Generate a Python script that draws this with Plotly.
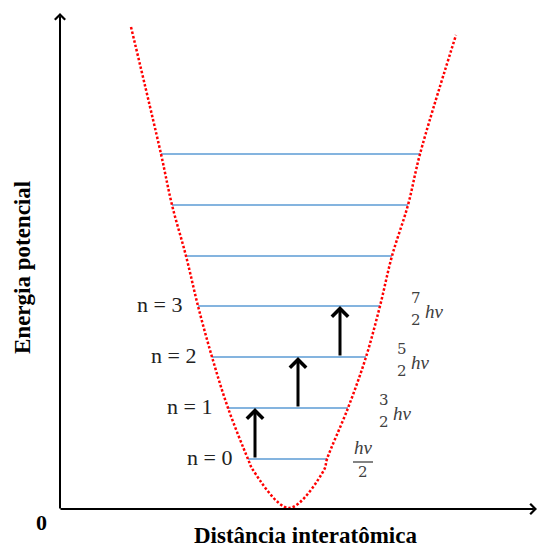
import plotly.graph_objects as go

# Coordinates: x = distance from the origin, y = energy above the baseline (arbitrary units)
level_y = [50, 101, 152, 203, 253, 304, 355]
level_left = [188, 168, 152, 138, 126, 112, 101]
level_right = [267, 288, 306, 320, 332, 348, 360]

curve_x = [71, 101, 112, 126, 138, 152, 168, 188, 193, 229, 264, 267, 288, 306, 320, 332, 348, 360, 396]
curve_y = [482, 355, 304, 253, 203, 152, 101, 50, 39, 1, 39, 50, 101, 152, 203, 253, 304, 355, 474]

n_labels = ["n = 0", "n = 1", "n = 2", "n = 3"]
frac_num = ["", "3", "5", "7"]
frac_den = ["2", "2", "2", "2"]

arrow_x = [195, 238, 280]
arrow_from = [0, 1, 2]
arrow_to = [1, 2, 3]

x_label = "Distância interatômica"
y_label = "Energia potencial"
origin_label = "0"

fig = go.Figure()

# energy levels
for yv, l, r in zip(level_y, level_left, level_right):
    fig.add_trace(go.Scatter(x=[l, r], y=[yv, yv], mode="lines",
                             line=dict(color="#5B9BD5", width=1.5),
                             hoverinfo="skip", showlegend=False))

# potential curve
fig.add_trace(go.Scatter(x=curve_x, y=curve_y, mode="lines",
                         line=dict(color="#FF0000", width=2.5, dash="2.5px,2px",
                                   shape="spline", smoothing=1.0),
                         hoverinfo="skip", showlegend=False))

ann = []
# axes with arrowheads
ann.append(dict(x=0, y=496, ax=0, ay=-1, xref="x", yref="y", axref="x", ayref="y",
                text="", showarrow=True, arrowhead=4, arrowsize=1, arrowwidth=2,
                arrowcolor="black", standoff=0))
ann.append(dict(x=477, y=0, ax=-1, ay=0, xref="x", yref="y", axref="x", ayref="y",
                text="", showarrow=True, arrowhead=4, arrowsize=1, arrowwidth=2,
                arrowcolor="black", standoff=0))

# transition arrows
for xa, i0, i1 in zip(arrow_x, arrow_from, arrow_to):
    ann.append(dict(x=xa, y=level_y[i1], ax=xa, ay=level_y[i0], xref="x", yref="y",
                    axref="x", ayref="y", text="", showarrow=True, arrowhead=4,
                    arrowsize=1.05, arrowwidth=3, arrowcolor="black", standoff=0))

serif = "Liberation Serif, Times New Roman, serif"
mserif = "DejaVu Serif, serif"

# n labels
for i, t in enumerate(n_labels):
    ann.append(dict(x=level_left[i] - 14, y=level_y[i] + 2, xref="x", yref="y",
                    text=t, showarrow=False, xanchor="right", yanchor="middle",
                    font=dict(family=serif, size=22, color="#222")))

# fraction labels
frac_col = "#404040"
for i in range(4):
    xr = level_right[i]
    yv = level_y[i]
    if frac_num[i] == "":
        cx = xr + 36
        ann.append(dict(x=cx, y=yv + 12, xref="x", yref="y", text="<i>hv</i>",
                        showarrow=False, xanchor="center", yanchor="middle",
                        font=dict(family=serif, size=19, color=frac_col)))
        ann.append(dict(x=cx, y=yv - 13, xref="x", yref="y", text=frac_den[i],
                        showarrow=False, xanchor="center", yanchor="middle",
                        font=dict(family=mserif, size=15, color=frac_col)))
        fig.add_shape(type="line", x0=cx - 10, x1=cx + 10, y0=yv - 3, y1=yv - 3,
                      xref="x", yref="y", line=dict(color=frac_col, width=1.3))
    else:
        cx = xr + 36
        ann.append(dict(x=cx, y=yv + 8, xref="x", yref="y", text=frac_num[i],
                        showarrow=False, xanchor="center", yanchor="middle",
                        font=dict(family=mserif, size=15, color=frac_col)))
        ann.append(dict(x=cx, y=yv - 14, xref="x", yref="y", text=frac_den[i],
                        showarrow=False, xanchor="center", yanchor="middle",
                        font=dict(family=mserif, size=15, color=frac_col)))
        ann.append(dict(x=cx + 7, y=yv - 5, xref="x", yref="y", text="<i>hv</i>",
                        showarrow=False, xanchor="left", yanchor="middle",
                        font=dict(family=serif, size=19, color=frac_col)))

# axis texts
ann.append(dict(x=-38, y=241, xref="x", yref="y", text="<b>" + y_label + "</b>",
                textangle=-90, showarrow=False, xanchor="center", yanchor="middle",
                font=dict(family=serif, size=23, color="black")))
ann.append(dict(x=-19, y=-13, xref="x", yref="y", text="<b>" + origin_label + "</b>",
                showarrow=False, xanchor="center", yanchor="middle",
                font=dict(family=serif, size=22, color="black")))
ann.append(dict(x=245, y=-40, xref="x", yref="y", text="<b>" + x_label + "</b>",
                showarrow=False, xanchor="center", yanchor="bottom", borderpad=0,
                font=dict(family=serif, size=23, color="black")))

fig.update_layout(
    width=541, height=550,
    margin=dict(l=0, r=0, t=0, b=0),
    paper_bgcolor="white", plot_bgcolor="white",
    xaxis=dict(range=[-60, 481], visible=False, fixedrange=True),
    yaxis=dict(range=[-41, 509], visible=False, fixedrange=True),
    annotations=ann,
    showlegend=False,
)

fig.write_html("out.html")
